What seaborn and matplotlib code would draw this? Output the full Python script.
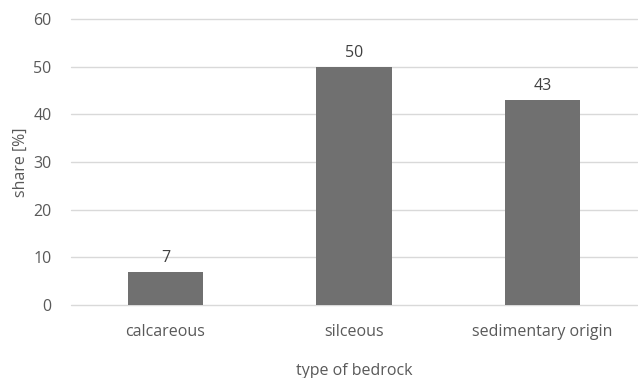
import matplotlib
matplotlib.use("Agg")
import matplotlib.pyplot as plt
import seaborn as sns
import pandas as pd

categories = ["calcareous", "silceous", "sedimentary origin"]
shares = [7, 50, 43]
y_ticks = [0, 10, 20, 30, 40, 50, 60]

sns.set_theme(style="white")
plt.rcParams["font.family"] = ["Open Sans", "DejaVu Sans"]

text_color = "#595959"
fs = 11.5
df = pd.DataFrame({"type": categories, "share": shares})

fig = plt.figure(figsize=(6.38, 3.78), dpi=100)
ax = fig.add_axes([71 / 638, 1 - 305 / 378, 566 / 638, (305 - 19) / 378])

sns.barplot(data=df, x="type", y="share", color="#707070", saturation=1,
            width=0.40, ax=ax, zorder=3, linewidth=0)

ax.set_ylim(0, 60)
ax.set_yticks(y_ticks)
ax.set_xlim(-0.5, len(categories) - 0.5)
ax.yaxis.grid(True, color="#d9d9d9", linewidth=1.0, zorder=0)
for line in ax.get_ygridlines():
    line.set_clip_on(False)
ax.set_axisbelow(True)
for s in ax.spines.values():
    s.set_visible(False)
ax.tick_params(axis="both", length=0, colors=text_color, labelsize=fs)
ax.tick_params(axis="x", pad=14)
ax.tick_params(axis="y", pad=14)

for patch, v in zip(ax.patches, shares):
    ax.annotate(f"{v}", (patch.get_x() + patch.get_width() / 2, v),
                xytext=(0, 4), textcoords="offset points",
                ha="center", va="bottom", fontsize=fs, color="#404040")

ax.set_xlabel("type of bedrock", color=text_color, fontsize=fs, labelpad=16)
ax.set_ylabel("share [%]", color=text_color, fontsize=fs, labelpad=3)

fig.savefig("out.png", dpi=100)
